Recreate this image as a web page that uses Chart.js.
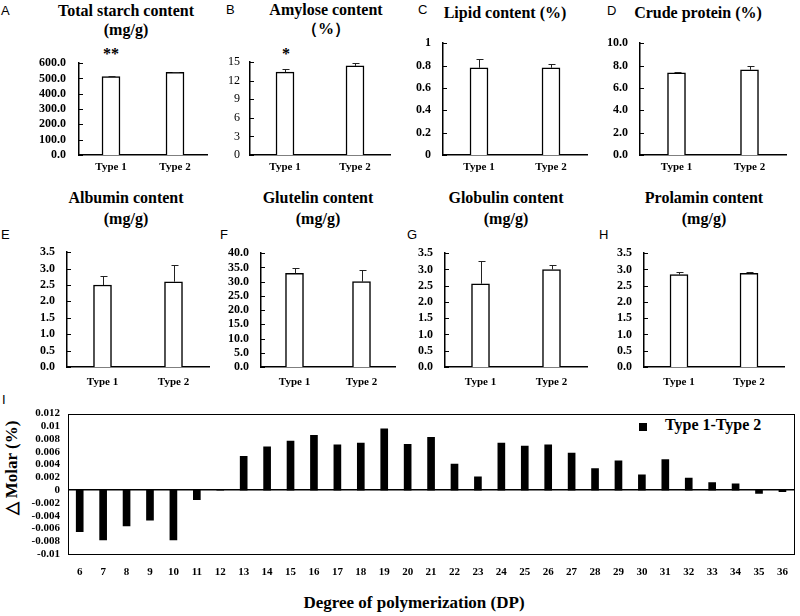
<!DOCTYPE html>
<html>
<head>
<meta charset="utf-8">
<script src="https://cdn.jsdelivr.net/npm/chart.js@4.4.0/dist/chart.umd.min.js"></script>
<style>
  body { margin: 0; width: 800px; height: 616px; position: relative; overflow: hidden; background: #fff; font-family: "Liberation Serif", serif; }
  canvas { position: absolute; }
  .title { position: absolute; font-weight: bold; font-size: 16px; line-height: 19px; text-align: center; white-space: nowrap; transform: translateX(-50%); }
  .letter { position: absolute; font-family: "Liberation Sans", sans-serif; font-size: 13px; line-height: 13px; }
  .star { position: absolute; font-weight: bold; font-size: 16px; line-height: 16px; transform: translateX(-50%); }
</style>
</head>
<body>
<div class="letter" style="left:1px;top:4px">A</div>
<div class="letter" style="left:226px;top:3px">B</div>
<div class="letter" style="left:418px;top:3px">C</div>
<div class="letter" style="left:607px;top:4px">D</div>
<div class="letter" style="left:1px;top:228px">E</div>
<div class="letter" style="left:220px;top:228px">F</div>
<div class="letter" style="left:407px;top:228px">G</div>
<div class="letter" style="left:599px;top:228px">H</div>
<div class="letter" style="left:2px;top:393px">I</div>

<div class="title" style="left:126px;top:1px">Total starch content<br>(mg/g)</div>
<div class="title" style="left:326px;top:0px">Amylose content<br>（%）</div>
<div class="title" style="left:505px;top:3px">Lipid content (%)</div>
<div class="title" style="left:698px;top:3px">Crude protein (%)</div>
<div class="title" style="left:126px;top:187px;line-height:21px">Albumin content<br>(mg/g)</div>
<div class="title" style="left:318px;top:187px;line-height:21px">Glutelin content<br>(mg/g)</div>
<div class="title" style="left:506px;top:187px;line-height:21px">Globulin content<br>(mg/g)</div>
<div class="title" style="left:704px;top:187px;line-height:21px">Prolamin content<br>(mg/g)</div>

<div class="star" style="left:111px;top:46px">**</div>
<div class="star" style="left:286px;top:46px">*</div>

<div style="position:absolute;left:11px;top:468px;transform:translate(-50%,-50%) rotate(-90deg);font-weight:bold;font-size:17px;white-space:nowrap">△ Molar (%)</div>
<div style="position:absolute;left:414px;top:593px;transform:translateX(-50%);font-weight:bold;font-size:17px;line-height:20px;white-space:nowrap">Degree of polymerization (DP)</div>
<div style="position:absolute;left:639px;top:423px;width:8px;height:8px;background:#000"></div>
<div style="position:absolute;left:665px;top:416px;font-weight:bold;font-size:16px;line-height:18px;white-space:nowrap">Type 1-Type 2</div>

<script>
const types = ['Type 1', 'Type 2'];

const starch = [512, 541];
const starchErr = [6, 1];
const amylose = [13.4, 14.4];
const amyloseErr = [0.5, 0.45];
const lipid = [0.78, 0.78];
const lipidErr = [0.08, 0.03];
const protein = [7.35, 7.62];
const proteinErr = [0.05, 0.34];
const albumin = [2.5, 2.6];
const albuminErr = [0.27, 0.5];
const glutelin = [32.9, 30.0];
const glutelinErr = [1.95, 4.0];
const globulin = [2.56, 3.0];
const globulinErr = [0.69, 0.13];
const prolamin = [2.84, 2.88];
const prolaminErr = [0.08, 0.04];

const dpLabels = ['6', '7', '8', '9', '10', '11', '12', '13', '14', '15', '16', '17', '18', '19', '20', '21',
  '22', '23', '24', '25', '26', '27', '28', '29', '30', '31', '32', '33', '34', '35', '36'];
const molarDiff = [-0.0065, -0.0078, -0.0056, -0.0047, -0.0078, -0.0015, 0, 0.0053, 0.0068, 0.0077, 0.0086,
  0.0071, 0.0074, 0.0096, 0.0072, 0.0083, 0.0041, 0.0021, 0.0074, 0.0069, 0.0071, 0.0058, 0.0034, 0.0046,
  0.0024, 0.0048, 0.0019, 0.0012, 0.001, -0.0005, -0.00025];

const SERIF = "'Liberation Serif', 'Times New Roman', serif";

// small ticks drawn on the inside of the y axis
const innerTicks = {
  id: 'innerTicks',
  afterDraw(chart) {
    const y = chart.scales.y;
    const ctx = chart.ctx;
    const x0 = chart.chartArea.left;
    ctx.save();
    ctx.strokeStyle = '#000';
    ctx.lineWidth = 1;
    y.ticks.forEach(t => {
      const py = Math.round(y.getPixelForValue(t.value)) + 0.5;
      ctx.beginPath();
      ctx.moveTo(x0, py);
      ctx.lineTo(x0 + 4, py);
      ctx.stroke();
    });
    ctx.restore();
  }
};

// upward error bars
const errorBars = {
  id: 'errorBars',
  afterDatasetsDraw(chart, args, opts) {
    const meta = chart.getDatasetMeta(0);
    const y = chart.scales.y;
    const vals = chart.data.datasets[0].data;
    const ctx = chart.ctx;
    ctx.save();
    ctx.strokeStyle = '#222';
    ctx.lineWidth = 1;
    meta.data.forEach((bar, i) => {
      const top = Math.round(y.getPixelForValue(vals[i] + opts.err[i])) + 0.5;
      const x = Math.round(bar.x) + 0.5;
      ctx.beginPath();
      ctx.moveTo(x, bar.y);
      ctx.lineTo(x, top);
      ctx.moveTo(x - 3, top);
      ctx.lineTo(x + 4, top);
      ctx.stroke();
    });
    ctx.restore();
  }
};

// box around panel I plus its zero line
const frame = {
  id: 'frame',
  afterDatasetsDraw(chart) {
    const a = chart.chartArea;
    const y0 = Math.round(chart.scales.y.getPixelForValue(0));
    const ctx = chart.ctx;
    ctx.save();
    ctx.strokeStyle = '#000';
    ctx.lineWidth = 1;
    ctx.strokeRect(Math.round(a.left) + 0.5, Math.round(a.top) + 0.5, Math.round(a.right - a.left), Math.round(a.bottom - a.top));
    ctx.fillStyle = '#000';
    ctx.fillRect(a.left, y0 - 1, a.right - a.left, 1.5);
    ctx.restore();
  }
};

function addCanvas(x, y, w, h) {
  const c = document.createElement('canvas');
  c.width = w;
  c.height = h;
  c.style.left = x + 'px';
  c.style.top = y + 'px';
  c.style.width = w + 'px';
  c.style.height = h + 'px';
  document.body.appendChild(c);
  return c;
}

const YW = 62, PT = 10, PR = 6, XH = 26;

function barPanel(p) {
  const [left, top, bottom, right] = p.box;
  const cv = addCanvas(left - YW, top - PT, right - left + YW + PR, bottom - top + PT + XH);
  new Chart(cv.getContext('2d'), {
    type: 'bar',
    data: {
      labels: types,
      datasets: [{
        data: p.data,
        backgroundColor: '#fff',
        borderColor: '#000',
        borderWidth: 1.5,
        barThickness: 18
      }]
    },
    options: {
      responsive: false,
      animation: false,
      devicePixelRatio: 1,
      layout: { padding: { top: PT, right: PR, left: 0, bottom: 0 } },
      plugins: { legend: { display: false }, tooltip: { enabled: false }, errorBars: { err: p.err } },
      scales: {
        x: {
          z: 1,
          grid: { display: false, drawTicks: false },
          border: { display: true, color: '#000', width: 1.5 },
          ticks: { color: '#000', padding: p.xpad, font: { family: SERIF, size: 11, weight: 'bold' } },
          afterFit: s => { s.height = XH; }
        },
        y: {
          min: 0,
          max: p.max,
          grid: { display: false, drawTicks: false },
          border: { display: true, color: '#000', width: 1.5 },
          ticks: {
            stepSize: p.step,
            autoSkip: false,
            color: '#000',
            padding: p.ypad,
            font: { family: SERIF, size: 12, weight: p.bold ? 'bold' : 'normal' },
            callback: v => p.dec === null ? String(+v.toFixed(2)) : v.toFixed(p.dec)
          },
          afterFit: s => { s.width = YW; }
        }
      }
    },
    plugins: [innerTicks, errorBars]
  });
}

barPanel({ data: starch, err: starchErr, max: 600, step: 100, dec: 1, bold: true, box: [79, 53, 155, 207], xpad: 6, ypad: 13 });
barPanel({ data: amylose, err: amyloseErr, max: 15, step: 3, dec: 0, bold: false, box: [250, 55, 155, 390], xpad: 6, ypad: 10 });
barPanel({ data: lipid, err: lipidErr, max: 1, step: 0.2, dec: null, bold: true, box: [443, 34, 155, 587], xpad: 6, ypad: 12 });
barPanel({ data: protein, err: proteinErr, max: 10, step: 2, dec: 1, bold: true, box: [640, 34, 155, 786], xpad: 6, ypad: 12 });
barPanel({ data: albumin, err: albuminErr, max: 3.5, step: 0.5, dec: 1, bold: true, box: [67, 243, 367, 209], xpad: 9, ypad: 12 });
barPanel({ data: glutelin, err: glutelinErr, max: 40, step: 5, dec: 1, bold: true, box: [261, 244, 367, 395], xpad: 9, ypad: 12 });
barPanel({ data: globulin, err: globulinErr, max: 3.5, step: 0.5, dec: 1, bold: true, box: [445, 244, 367, 587], xpad: 9, ypad: 12 });
barPanel({ data: prolamin, err: prolaminErr, max: 3.5, step: 0.5, dec: 1, bold: true, box: [644, 244, 367, 784], xpad: 9, ypad: 12 });

// panel I: chain length distribution difference
(function () {
  const left = 68, top = 407, bottom = 554, right = 796;
  const yw = 62, pt = 8, pr = 4, xh = 30;
  const cv = addCanvas(left - yw, top - pt, right - left + yw + pr, bottom - top + pt + xh);
  new Chart(cv.getContext('2d'), {
    type: 'bar',
    data: {
      labels: dpLabels,
      datasets: [{ label: 'Type 1-Type 2', data: molarDiff, backgroundColor: '#000', barThickness: 7 }]
    },
    options: {
      responsive: false,
      animation: false,
      devicePixelRatio: 1,
      layout: { padding: { top: pt, right: pr, left: 0, bottom: 0 } },
      plugins: { legend: { display: false }, tooltip: { enabled: false } },
      scales: {
        x: {
          grid: { display: false, drawTicks: false },
          border: { display: false },
          ticks: { color: '#000', padding: 12, autoSkip: false, maxRotation: 0, font: { family: SERIF, size: 11, weight: 'bold' } },
          afterFit: s => { s.height = xh; }
        },
        y: {
          min: -0.01,
          max: 0.012,
          grid: { display: false, drawTicks: false },
          border: { display: false },
          ticks: {
            stepSize: 0.002,
            autoSkip: false,
            color: '#000',
            padding: 8,
            font: { family: SERIF, size: 11, weight: 'bold' },
            callback: v => String(+v.toFixed(3))
          },
          afterFit: s => { s.width = yw; }
        }
      }
    },
    plugins: [frame]
  });
})();
</script>
</body>
</html>
